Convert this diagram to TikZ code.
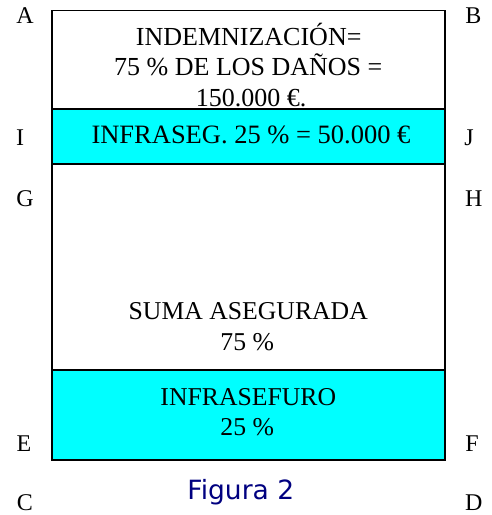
\documentclass[tikz,border=0pt]{standalone}
\usepackage{fontspec}
\setmainfont{Liberation Serif}
\newfontfamily\figfont{DejaVu Sans}
\definecolor{cy}{HTML}{00FFFF}
\definecolor{figblue}{HTML}{000080}
\tikzset{x=1pt,y=-1pt,
 lab/.style={font=\fontsize{24}{28}\selectfont,inner sep=0pt,anchor=base},
 txt/.style={font=\fontsize{25.7}{30}\selectfont,inner sep=0pt,anchor=base,align=center},
 boxw/.style={draw=black,line width=1.8pt,fill=white},
 boxc/.style={draw=black,line width=1.8pt,fill=cy}}
\begin{document}
\begin{tikzpicture}
\useasboundingbox (0,0) rectangle (491,515);
\fill[white] (0,0) rectangle (491,515);
\draw[boxw] (52.3,10.5) rectangle (445,460);
\draw[boxc] (52.3,108.7) rectangle (445,164);
\draw[boxc] (52.3,370.3) rectangle (445,460);
\node[lab] (a) at (25,23.5) {A};
\node[lab] (b) at (473.5,23.5) {B};
\node[lab] (i) at (20,145.7) {I};
\node[lab] (j) at (469,145.7) {J};
\node[lab] (g) at (25,206.5) {G};
\node[lab] (h) at (473.7,206.5) {H};
\node[lab] (e) at (24,451) {E};
\node[lab] (f) at (472,451) {F};
\node[lab] (c) at (25,510) {C};
\node[lab] (d) at (473.7,510) {D};
\node[txt,font=\fontsize{26}{30}\selectfont] (t1) at (248.7,45) {INDEMNIZACIÓN=};
\node[txt,font=\fontsize{26}{30}\selectfont] (t2) at (248.3,75) {75 \% DE LOS DAÑOS =};
\node[txt,font=\fontsize{26}{30}\selectfont] (t3) at (251,106) {150.000 €.};
\node[txt,font=\fontsize{26.5}{30}\selectfont] (t4) at (251,143.3) {INFRASEG. 25 \% = 50.000 €};
\node[txt] (t5) at (248.3,319.5) {SUMA ASEGURADA};
\node[txt] (t6) at (247.2,350.7) {75 \%};
\node[txt] (t7) at (248.3,405) {INFRASEFURO};
\node[txt] (t8) at (247.2,435.7) {25 \%};
\node[font=\figfont\fontsize{26.5}{30}\selectfont,text=figblue,inner sep=0pt,anchor=base] (fig) at (240.8,499) {Figura 2};
\end{tikzpicture}
\end{document}
